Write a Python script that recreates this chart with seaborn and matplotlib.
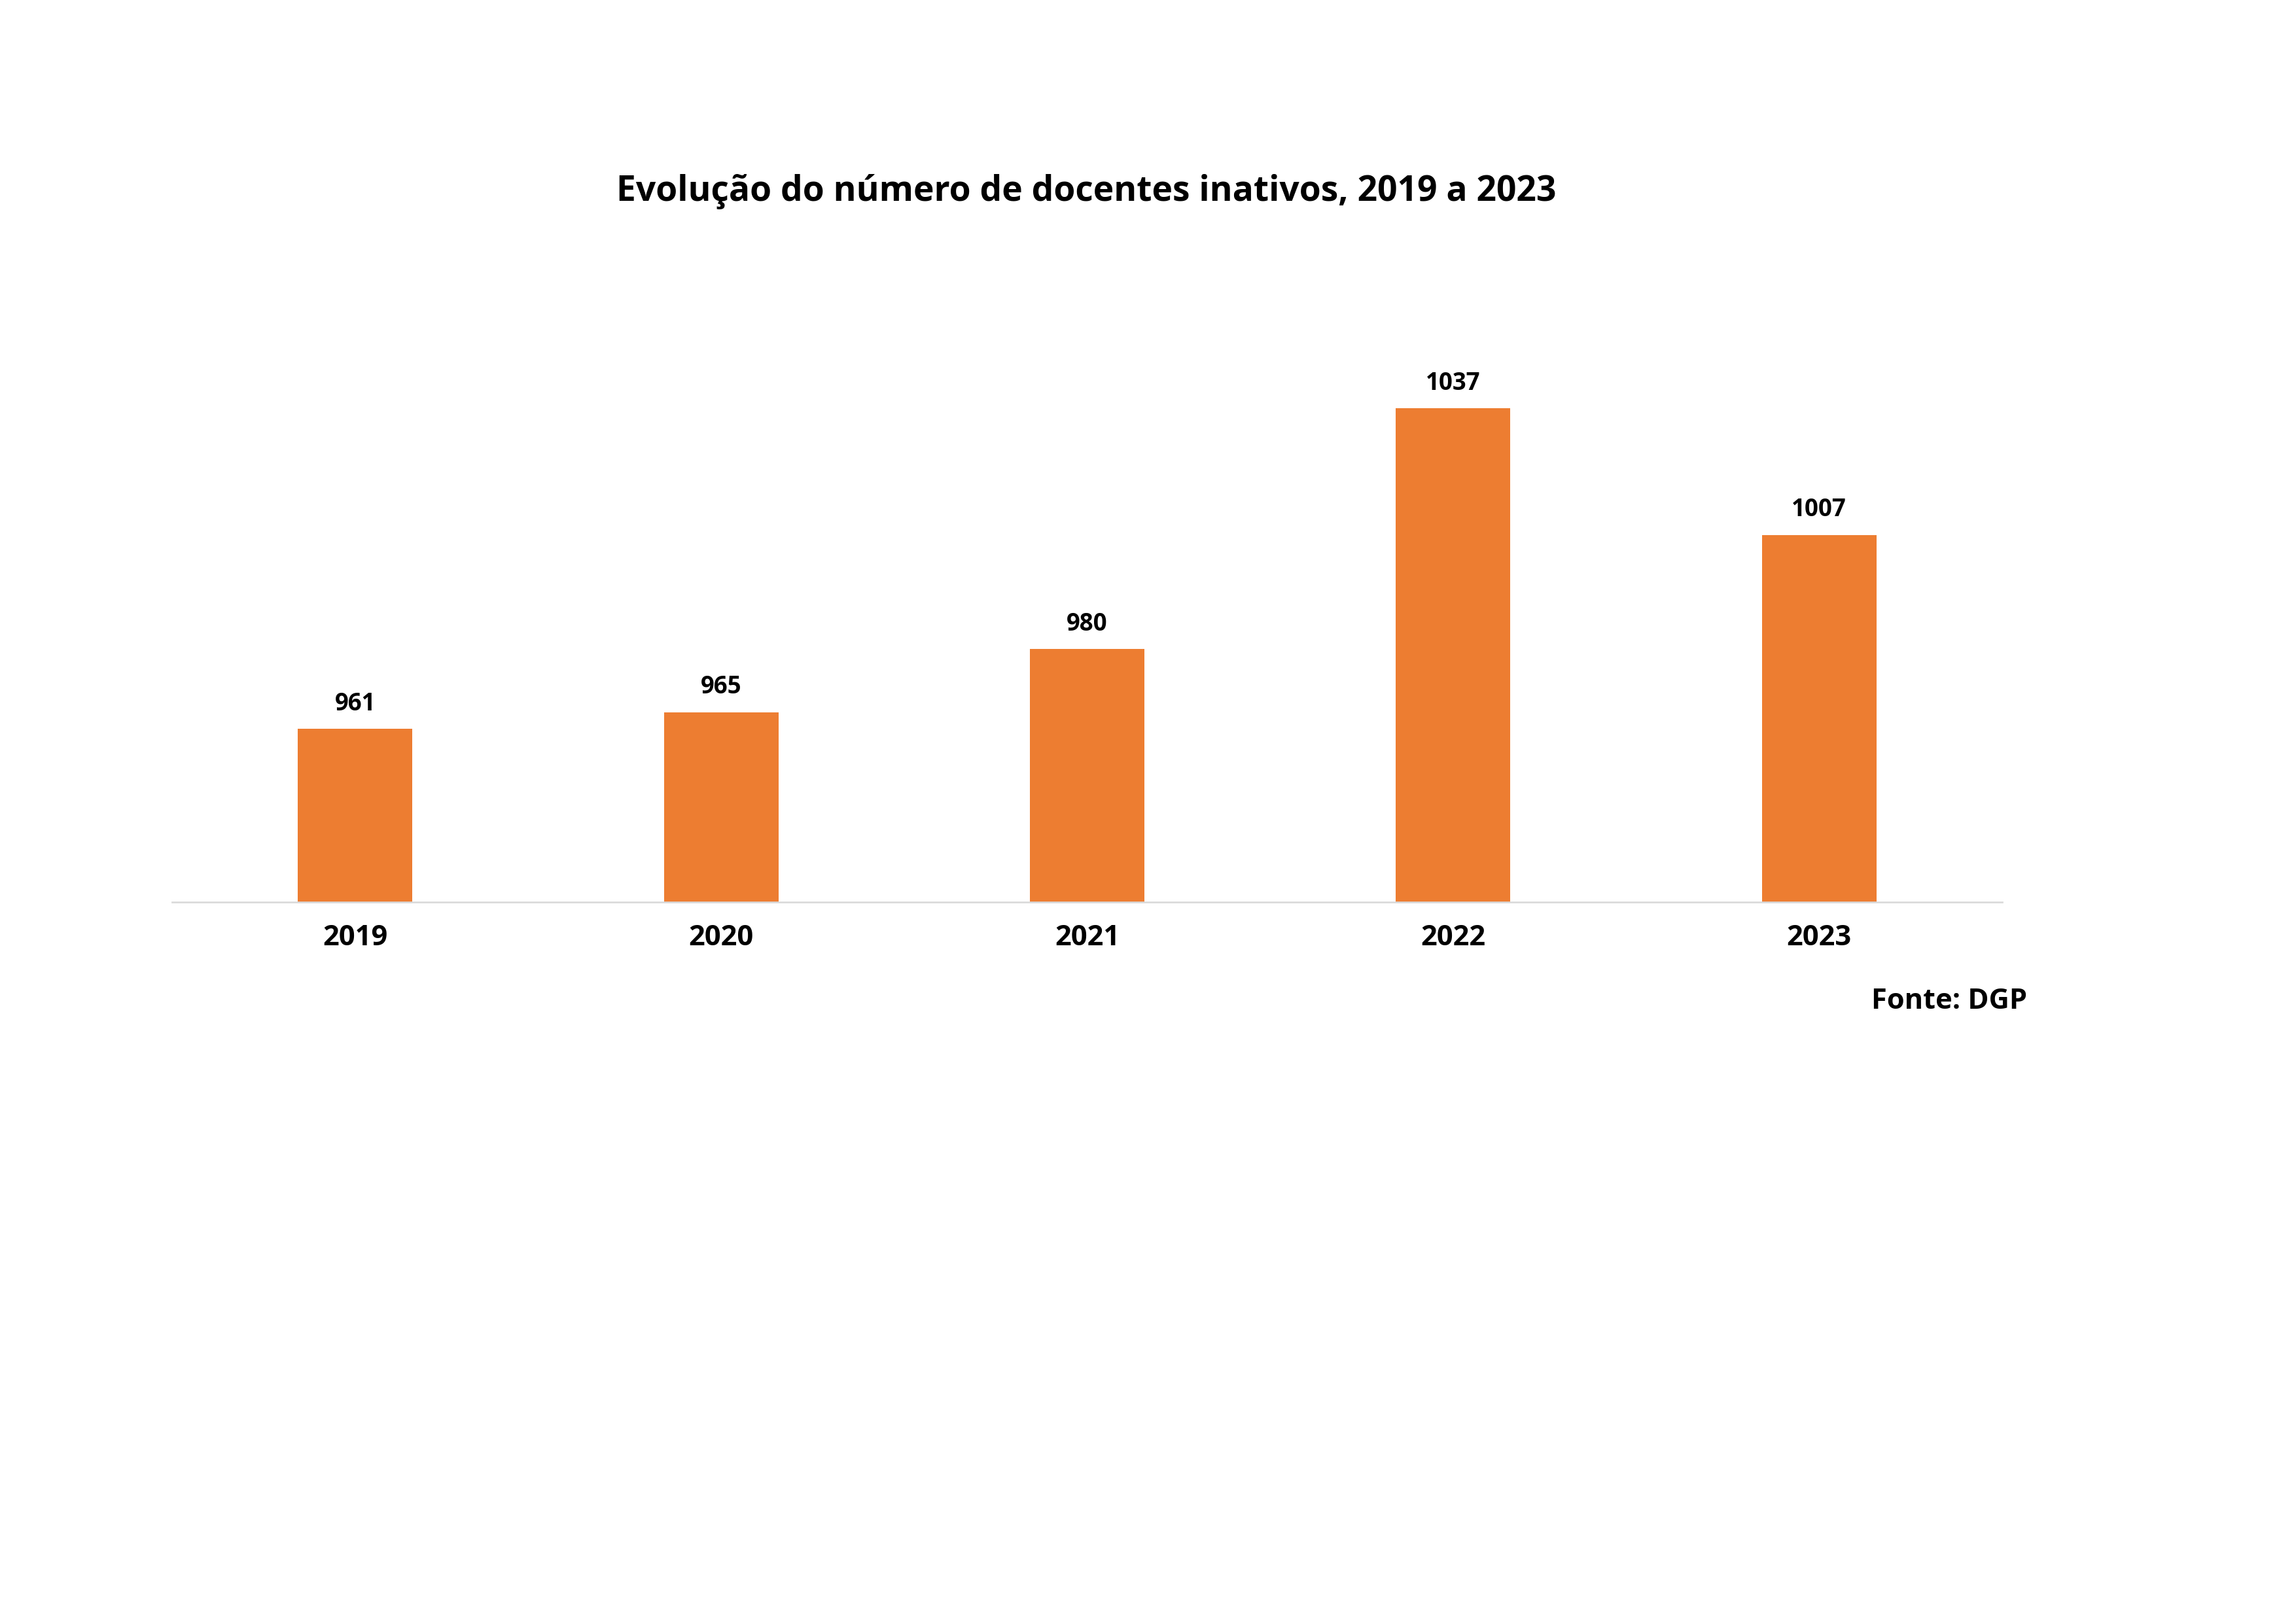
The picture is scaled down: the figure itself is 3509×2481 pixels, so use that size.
import matplotlib
matplotlib.use("Agg")
import matplotlib.pyplot as plt
import seaborn as sns
import pandas as pd

years = ["2019", "2020", "2021", "2022", "2023"]
values = [961, 965, 980, 1037, 1007]

df = pd.DataFrame({"ano": years, "valor": values})
plt.rcParams["font.family"] = "Open Sans"

fig = plt.figure(figsize=(3509/240, 2481/240), dpi=240)
ax = fig.add_axes([0.075, 0.4442, 0.797, 0.338])
sns.barplot(data=df, x="ano", y="valor", color="#ED7D31", width=0.313, ax=ax, saturation=1)
ax.set_ylim(920, 1050)
for i, v in enumerate(values):
    ax.text(i, v + 3, str(v), ha="center", va="bottom", fontsize=11, fontweight="bold")
for s in ["top", "right", "left"]:
    ax.spines[s].set_visible(False)
ax.spines["bottom"].set_color("#D9D9D9")
ax.set_yticks([])
ax.set_xlabel("")
ax.set_ylabel("")
ax.tick_params(axis="x", length=0, pad=10, labelsize=13)
for t in ax.get_xticklabels():
    t.set_fontweight("bold")
fig.text(0.473, 0.882, "Evolução do número de docentes inativos, 2019 a 2023",
         ha="center", va="center", fontsize=16, fontweight="bold")
fig.text(0.883, 0.383, "Fonte: DGP", ha="right", va="center", fontsize=13, fontweight="bold")
fig.savefig("out.png", dpi=240)
